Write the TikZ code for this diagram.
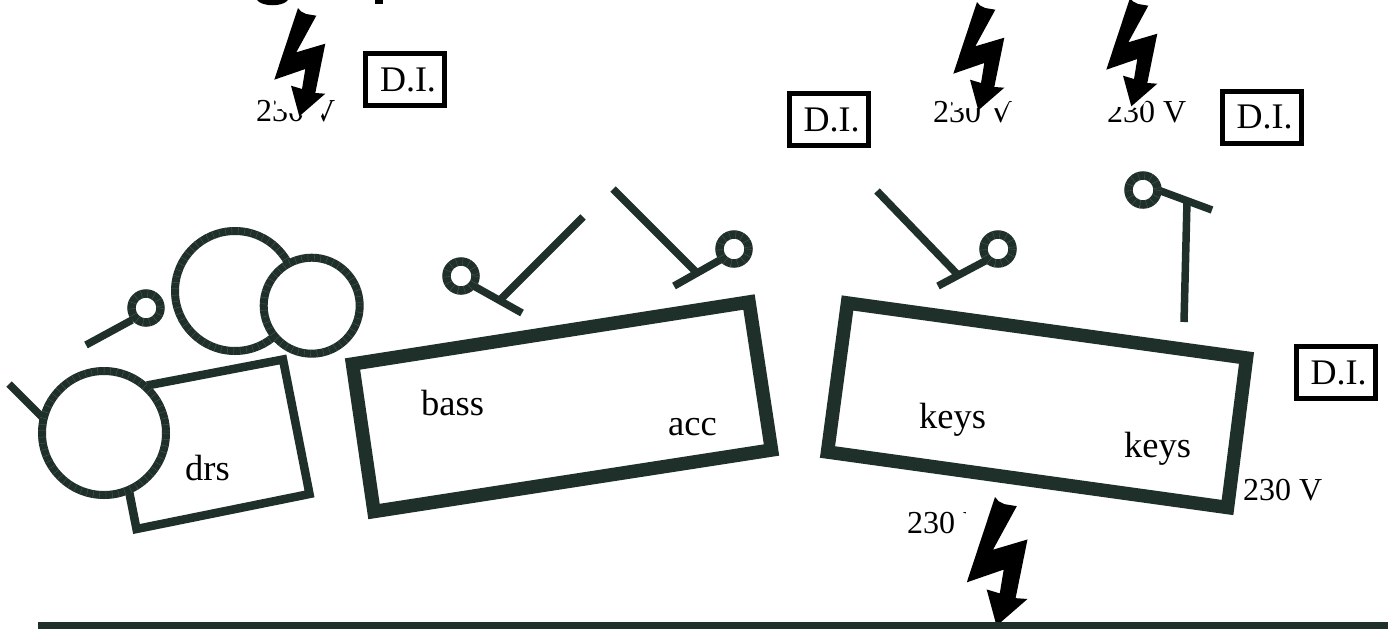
\documentclass[tikz,border=0pt]{standalone}
\usepackage{fontspec}
\setmainfont{Liberation Serif}
\definecolor{ink}{HTML}{1F2F2A}
\definecolor{seam}{HTML}{4F5C57}
\def\boltpath{(0,0) -- (3,3.5) -- (8,6) -- (18.3,7.7) -- (-1.7,44.3) -- (27.3,35.7) -- (17.3,85) -- (27.3,85.7) -- (1.3,108.3) -- (-7,77.7) -- (4,81) -- (7.3,61) -- (-23.7,71.7) -- cycle}
\tikzset{
  boltshape/.style={fill=black,draw=none},
  maskshape/.style={fill=white,draw=none},
  ring/.style={draw=ink,fill=white,line width=#1,postaction={draw=seam,line width=#1,dash pattern=on .35pt off 6pt}},
  stem/.style={draw=ink,line width=7.5pt},
  stage/.style={draw=ink,line width=13.5pt,miter limit=10},
  dibox/.style={draw=black,line width=5pt,minimum width=79pt,minimum height=52pt,inner sep=0pt,font=\fontsize{36}{36}\selectfont},
  lab/.style={anchor=base west,inner sep=0pt,font=\fontsize{36.5}{36.5}\selectfont},
  volt/.style={anchor=base west,inner sep=0pt,font=\fontsize{32}{32}\selectfont},
}
\begin{document}
\begin{tikzpicture}[x=1pt,y=-1pt]
\useasboundingbox (0,0) rectangle (1388,629);
% cropped title remains
\fill[black] (257,0) .. controls (262,7) and (283,7) .. (288,0) -- cycle;
\fill[black] (375,0) rectangle (383,4);
% floor line
\fill[ink] (38,622) rectangle (1388,629);
% voltage labels
\node[volt] (v1) at (256,121) {230 V};
\node[volt] (v2) at (933,122) {230 V};
\node[volt] (v3) at (1107,122) {230 V};
\node[volt] (v4) at (907,533) {230 V};
\node[volt] (v5) at (1243,500) {230 V};
% white image masks of the bolts
\fill[maskshape] (272,80) -- (272,97) -- (284,112) -- (310,117) -- (320,118) -- (331,98) -- (331,80) -- cycle;
\fill[maskshape] (949,80) -- (949,100) -- (960,108) -- (1000,108) -- (1004,110) -- (1012,96) -- (1012,80) -- cycle;
\fill[maskshape] (1104,80) -- (1104,106) -- (1140,108) -- (1155,90) -- (1155,80) -- cycle;
\fill[maskshape] (966,495) rectangle (1035,560);
% bolts
\fill[boltshape,shift={(298,8)}] \boltpath;
\fill[boltshape,shift={(977,2)}] \boltpath;
\fill[boltshape,shift={(1130,-2)}] \boltpath;
\fill[boltshape,shift={(995,497)},scale=1.19] \boltpath;
\fill[ink] (960,622) rectangle (1040,629);
% D.I. boxes
\node[dibox] (di1) at (405,79.5) {\hspace*{6pt}D.I.};
\node[dibox] (di2) at (828.5,119.5) {\hspace*{6pt}D.I.};
\node[dibox] (di3) at (1261.5,117) {\hspace*{6pt}D.I.};
\node[dibox] (di4) at (1335.5,372.5) {\hspace*{6pt}D.I.};
% stages
\draw[stage] (352.5,364) -- (749,302) -- (771.5,450) -- (374,511.5) -- cycle;
\draw[stage] (847.5,303) -- (1246.5,358) -- (1227.5,507.5) -- (827.5,452) -- cycle;
\node[lab] (bass) at (421,415) {bass};
\node[lab] (acc) at (668,435) {acc};
\node[lab] (keysa) at (919,428) {keys};
\node[lab] (keysb) at (1124,457) {keys};
% drum kit
\draw[draw=ink,line width=8.5pt,miter limit=10] (147,385.5) -- (283,359.5) -- (309.5,494) -- (136.5,529) -- (129,491);
\node[lab] (drs) at (185,480) {drs};
\draw[stem] (9,384) -- (43,418);
\draw[ring=8pt] (104,433) circle (62);
\draw[ring=8pt] (235,291) circle (60);
\draw[ring=8pt] (311.7,305.7) circle (48);
\draw[stem] (86,345) -- (132,320);
\draw[ring=8.5pt] (146,308) circle (14.5);
% microphones
\draw[stem] (472,285) -- (522,313);
\draw[stem] (499,301) -- (583,217);
\draw[ring=8.5pt] (461,276) circle (14.5);
\draw[stem] (720,260) -- (674,286);
\draw[stem] (697,273) -- (613,189);
\draw[ring=8.5pt] (734,249) circle (14.5);
\draw[stem] (987,260) -- (938,286);
\draw[stem] (958,275) -- (877,191);
\draw[ring=8.5pt] (998,249) circle (14.5);
\draw[stem] (1158,190) -- (1212,210);
\draw[stem] (1187,201) -- (1184,322);
\draw[ring=8.5pt] (1143,190) circle (14.5);
\end{tikzpicture}
\end{document}
